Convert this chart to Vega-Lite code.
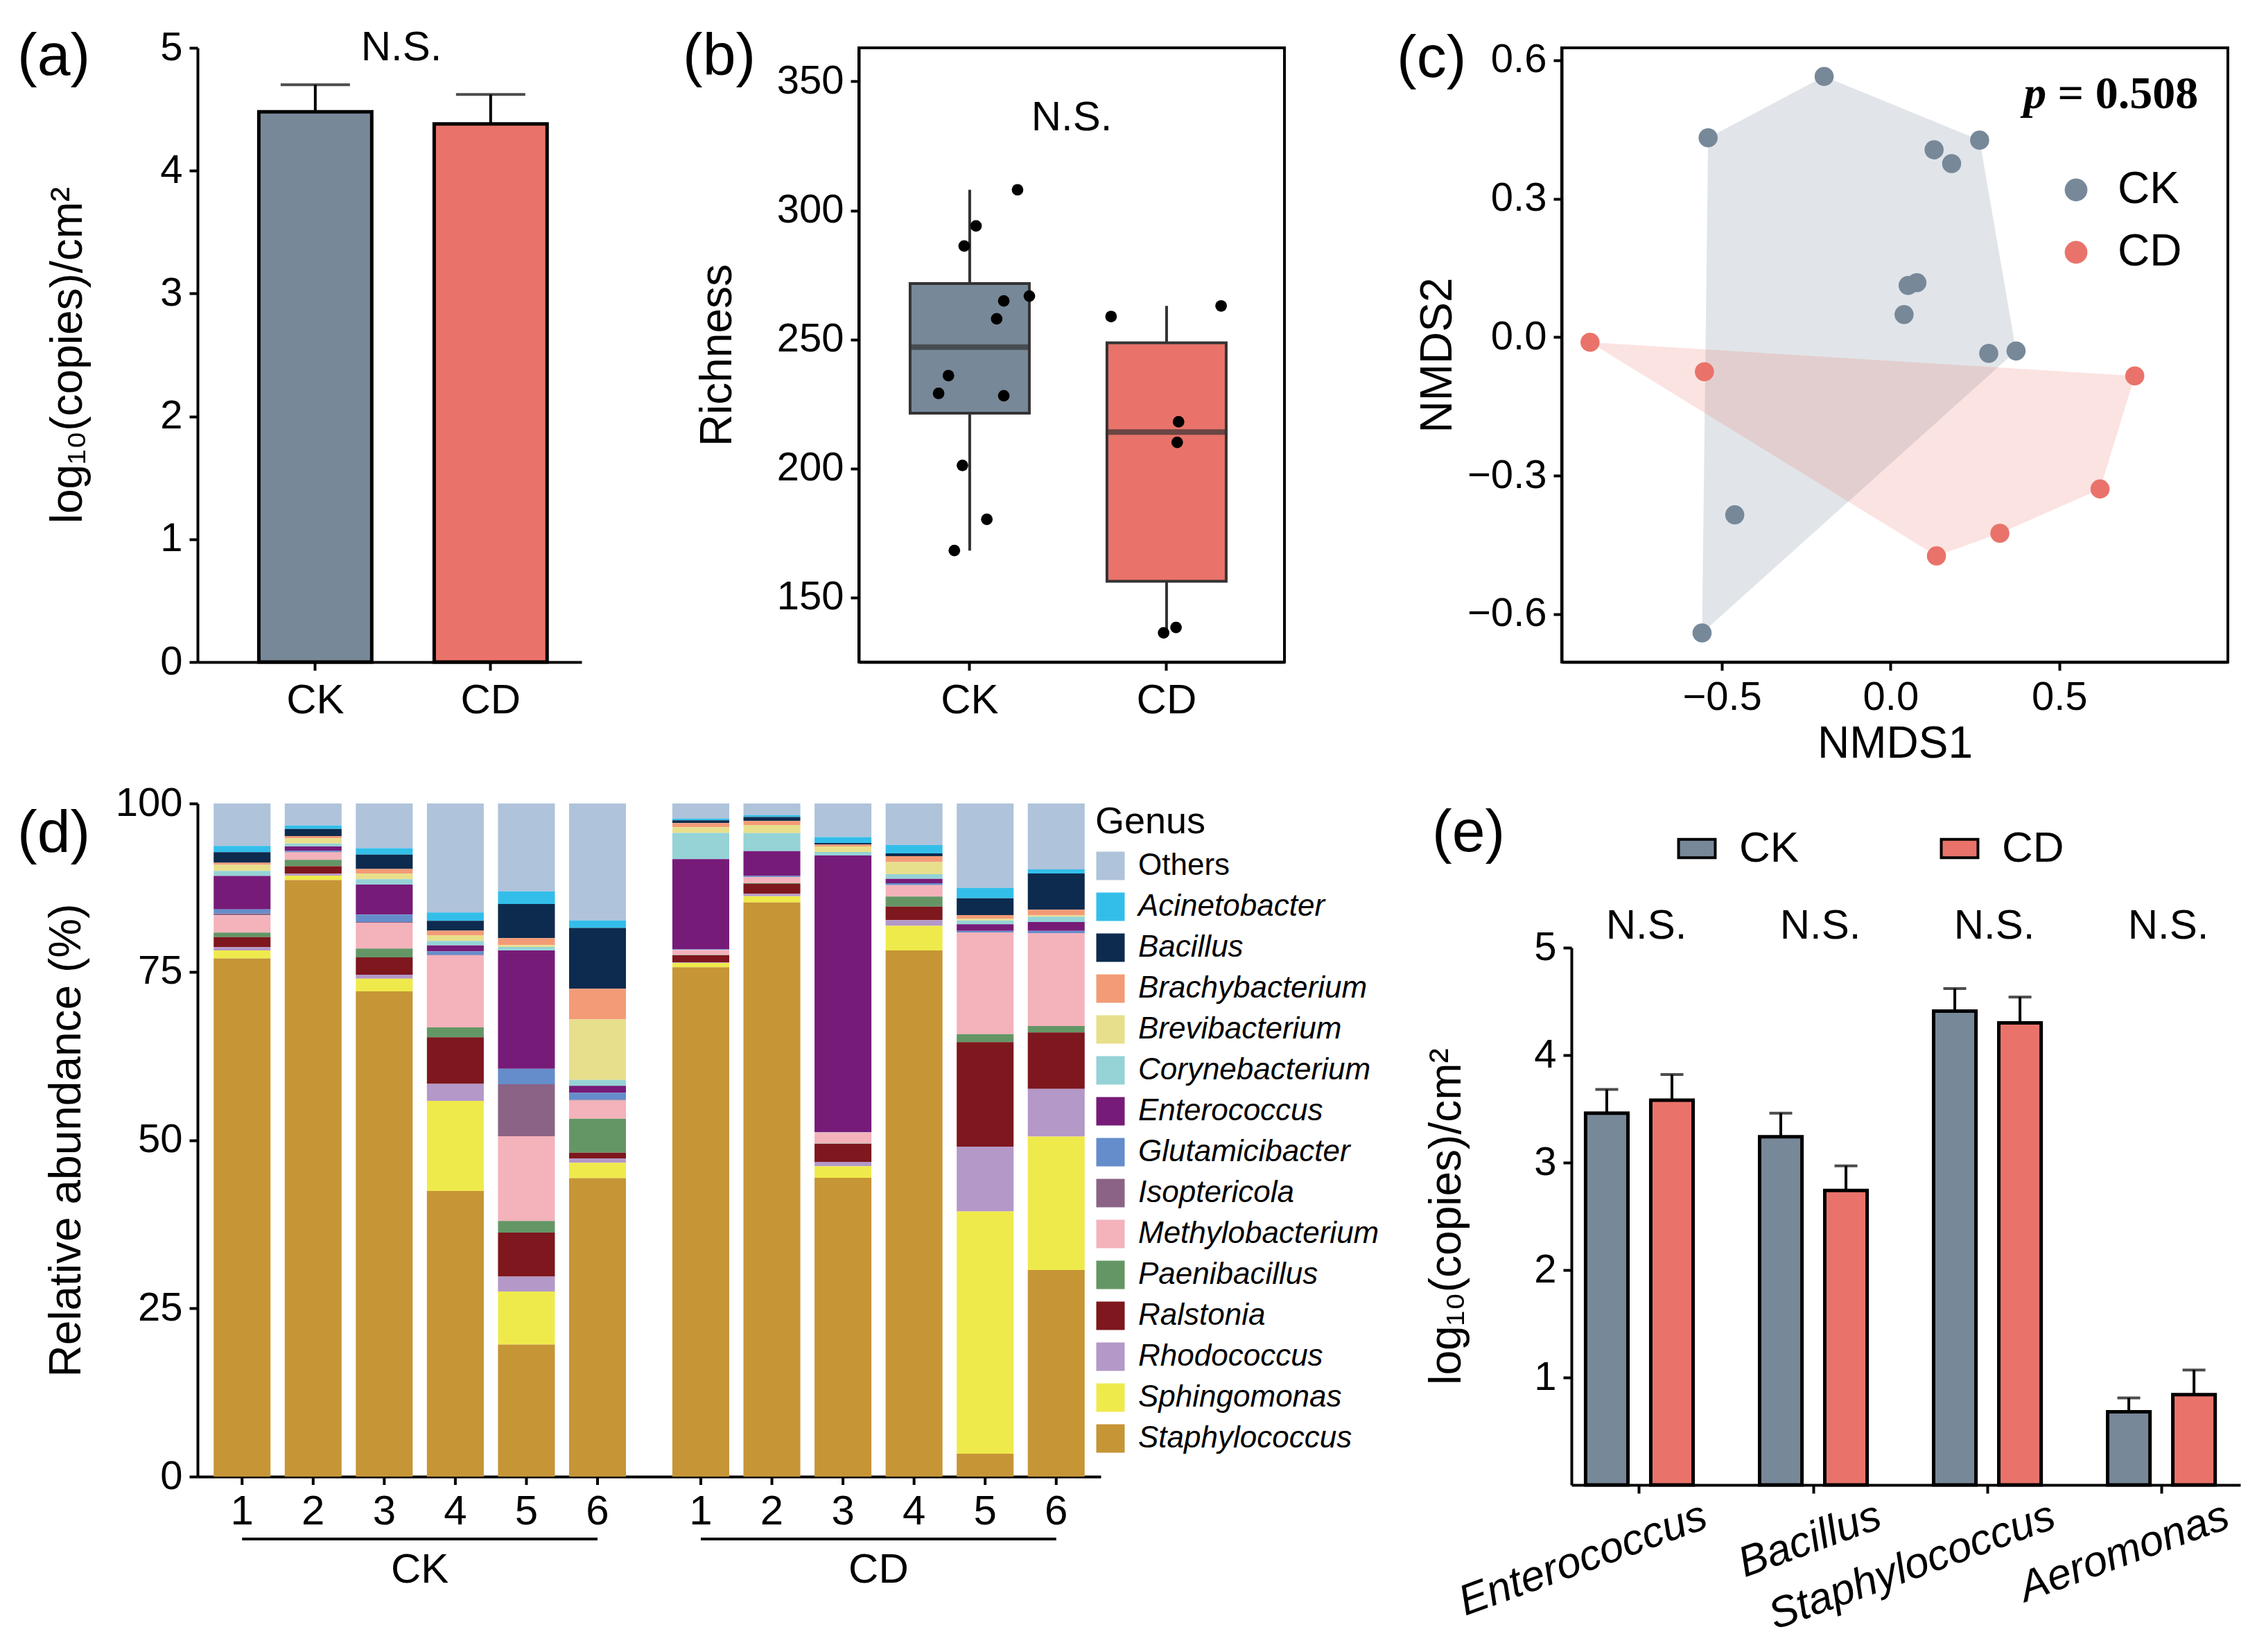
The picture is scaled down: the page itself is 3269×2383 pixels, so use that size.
{
  "$schema": "https://vega.github.io/schema/vega-lite/v6.json",
  "background": "white",
  "padding": {"left": 25, "top": 37, "right": 10, "bottom": 10},
  "bounds": "flush",
  "spacing": 1090,
  "resolve": {"scale": {"x": "independent", "y": "independent", "xOffset": "independent", "color": "independent", "fill": "independent"}, "legend": {"color": "independent", "fill": "independent"}},
  "config": {
    "font": "Liberation Sans",
    "view": {"stroke": null},
    "axis": {"domainColor": "black", "domainWidth": 4, "tickColor": "black", "tickWidth": 4, "tickSize": 12, "labelFontSize": 58, "labelColor": "black", "labelPadding": 10, "titleFontSize": 64, "titleFontWeight": "normal", "titleColor": "black", "grid": false},
    "title": {"fontSize": 86, "fontWeight": "normal", "color": "black", "anchor": "start", "frame": "group", "baseline": "alphabetic", "offset": 0},
    "legend": {"labelColor": "black", "titleColor": "black"}
  },
  "datasets": {
    "rich": [
      {"group": "CK", "richness": 308.0, "jitter": 0.243},
      {"group": "CK", "richness": 294.0, "jitter": 0.032},
      {"group": "CK", "richness": 286.2, "jitter": -0.028},
      {"group": "CK", "richness": 266.8, "jitter": 0.303},
      {"group": "CK", "richness": 264.9, "jitter": 0.173},
      {"group": "CK", "richness": 258.0, "jitter": 0.137},
      {"group": "CK", "richness": 236.0, "jitter": -0.108},
      {"group": "CK", "richness": 229.1, "jitter": -0.158},
      {"group": "CK", "richness": 228.2, "jitter": 0.173},
      {"group": "CK", "richness": 201.2, "jitter": -0.037},
      {"group": "CK", "richness": 180.3, "jitter": 0.087},
      {"group": "CK", "richness": 168.2, "jitter": -0.078},
      {"group": "CD", "richness": 258.9, "jitter": -0.282},
      {"group": "CD", "richness": 263.0, "jitter": 0.277},
      {"group": "CD", "richness": 218.1, "jitter": 0.061},
      {"group": "CD", "richness": 210.1, "jitter": 0.054},
      {"group": "CD", "richness": 136.3, "jitter": -0.015},
      {"group": "CD", "richness": 138.4, "jitter": 0.048}
    ],
    "nmds": [
      {"group": "CK", "NMDS1": -0.197, "NMDS2": 0.565},
      {"group": "CK", "NMDS1": -0.541, "NMDS2": 0.432},
      {"group": "CK", "NMDS1": 0.264, "NMDS2": 0.427},
      {"group": "CK", "NMDS1": 0.129, "NMDS2": 0.406},
      {"group": "CK", "NMDS1": 0.181, "NMDS2": 0.376},
      {"group": "CK", "NMDS1": 0.052, "NMDS2": 0.112},
      {"group": "CK", "NMDS1": 0.078, "NMDS2": 0.118},
      {"group": "CK", "NMDS1": 0.040, "NMDS2": 0.049},
      {"group": "CK", "NMDS1": 0.291, "NMDS2": -0.035},
      {"group": "CK", "NMDS1": 0.372, "NMDS2": -0.030},
      {"group": "CK", "NMDS1": -0.462, "NMDS2": -0.385},
      {"group": "CK", "NMDS1": -0.559, "NMDS2": -0.641},
      {"group": "CD", "NMDS1": -0.891, "NMDS2": -0.011},
      {"group": "CD", "NMDS1": -0.552, "NMDS2": -0.075},
      {"group": "CD", "NMDS1": 0.724, "NMDS2": -0.084},
      {"group": "CD", "NMDS1": 0.621, "NMDS2": -0.329},
      {"group": "CD", "NMDS1": 0.324, "NMDS2": -0.425},
      {"group": "CD", "NMDS1": 0.136, "NMDS2": -0.474}
    ],
    "hull": [
      {"group": "CK", "v": 0, "NMDS1": -0.541, "NMDS2": 0.432},
      {"group": "CK", "v": 1, "NMDS1": -0.197, "NMDS2": 0.565},
      {"group": "CK", "v": 2, "NMDS1": 0.264, "NMDS2": 0.427},
      {"group": "CK", "v": 3, "NMDS1": 0.372, "NMDS2": -0.030},
      {"group": "CK", "v": 4, "NMDS1": -0.559, "NMDS2": -0.641},
      {"group": "CD", "v": 0, "NMDS1": -0.891, "NMDS2": -0.011},
      {"group": "CD", "v": 1, "NMDS1": 0.724, "NMDS2": -0.084},
      {"group": "CD", "v": 2, "NMDS1": 0.621, "NMDS2": -0.329},
      {"group": "CD", "v": 3, "NMDS1": 0.324, "NMDS2": -0.425},
      {"group": "CD", "v": 4, "NMDS1": 0.136, "NMDS2": -0.474}
    ],
    "abund": [
      {"group": "CK", "sample": "1", "Others": 6.3, "Acinetobacter": 0.93, "Bacillus": 1.58, "Brachybacterium": 0.31, "Brevibacterium": 0.89, "Corynebacterium": 0.76, "Enterococcus": 4.97, "Glutamicibacter": 0.62, "Isoptericola": 0.24, "Methylobacterium": 2.58, "Paenibacillus": 0.68, "Ralstonia": 1.48, "Rhodococcus": 0.51, "Sphingomonas": 1.17, "Staphylococcus": 77.0},
      {"group": "CK", "sample": "2", "Others": 3.26, "Acinetobacter": 0.52, "Bacillus": 1.06, "Brachybacterium": 0.34, "Brevibacterium": 0.76, "Corynebacterium": 0.45, "Enterococcus": 0.65, "Glutamicibacter": 0.17, "Isoptericola": 0.05, "Methylobacterium": 1.1, "Paenibacillus": 0.96, "Ralstonia": 1.1, "Rhodococcus": 0.28, "Sphingomonas": 0.68, "Staphylococcus": 88.64},
      {"group": "CK", "sample": "3", "Others": 6.63, "Acinetobacter": 0.96, "Bacillus": 2.13, "Brachybacterium": 0.68, "Brevibacterium": 0.86, "Corynebacterium": 0.79, "Enterococcus": 4.46, "Glutamicibacter": 1.1, "Isoptericola": 0.1, "Methylobacterium": 3.85, "Paenibacillus": 1.3, "Ralstonia": 2.58, "Rhodococcus": 0.58, "Sphingomonas": 1.89, "Staphylococcus": 72.09},
      {"group": "CK", "sample": "4", "Others": 16.21, "Acinetobacter": 1.23, "Bacillus": 1.48, "Brachybacterium": 0.65, "Brevibacterium": 0.86, "Corynebacterium": 0.68, "Enterococcus": 0.86, "Glutamicibacter": 0.55, "Isoptericola": 0.05, "Methylobacterium": 10.71, "Paenibacillus": 1.48, "Ralstonia": 6.93, "Rhodococcus": 2.51, "Sphingomonas": 13.4, "Staphylococcus": 42.47},
      {"group": "CK", "sample": "5", "Others": 13.05, "Acinetobacter": 1.89, "Bacillus": 5.07, "Brachybacterium": 1.03, "Brevibacterium": 0.28, "Corynebacterium": 0.51, "Enterococcus": 17.58, "Glutamicibacter": 2.3, "Isoptericola": 7.72, "Methylobacterium": 12.6, "Paenibacillus": 1.73, "Ralstonia": 6.54, "Rhodococcus": 2.21, "Sphingomonas": 7.88, "Staphylococcus": 19.62},
      {"group": "CK", "sample": "6", "Others": 17.37, "Acinetobacter": 1.1, "Bacillus": 9.03, "Brachybacterium": 4.53, "Brevibacterium": 8.99, "Corynebacterium": 0.86, "Enterococcus": 1.06, "Glutamicibacter": 1.03, "Isoptericola": 0.1, "Methylobacterium": 2.7, "Paenibacillus": 5.04, "Ralstonia": 0.87, "Rhodococcus": 0.63, "Sphingomonas": 2.28, "Staphylococcus": 44.29},
      {"group": "CD", "sample": "1", "Others": 2.23, "Acinetobacter": 0.28, "Bacillus": 0.41, "Brachybacterium": 0.62, "Brevibacterium": 0.85, "Corynebacterium": 3.88, "Enterococcus": 13.39, "Glutamicibacter": 0.1, "Isoptericola": 0.0, "Methylobacterium": 0.76, "Paenibacillus": 0.05, "Ralstonia": 1.03, "Rhodococcus": 0.1, "Sphingomonas": 0.65, "Staphylococcus": 75.7},
      {"group": "CD", "sample": "2", "Others": 1.72, "Acinetobacter": 0.28, "Bacillus": 0.61, "Brachybacterium": 0.58, "Brevibacterium": 1.2, "Corynebacterium": 2.68, "Enterococcus": 3.68, "Glutamicibacter": 0.2, "Isoptericola": 0.0, "Methylobacterium": 0.89, "Paenibacillus": 0.1, "Ralstonia": 1.48, "Rhodococcus": 0.35, "Sphingomonas": 0.92, "Staphylococcus": 85.31},
      {"group": "CD", "sample": "3", "Others": 5.01, "Acinetobacter": 0.86, "Bacillus": 0.24, "Brachybacterium": 0.28, "Brevibacterium": 0.82, "Corynebacterium": 0.51, "Enterococcus": 41.14, "Glutamicibacter": 0.05, "Isoptericola": 0.0, "Methylobacterium": 1.65, "Paenibacillus": 0.05, "Ralstonia": 2.69, "Rhodococcus": 0.63, "Sphingomonas": 1.73, "Staphylococcus": 44.44},
      {"group": "CD", "sample": "4", "Others": 6.18, "Acinetobacter": 1.24, "Bacillus": 0.41, "Brachybacterium": 0.86, "Brevibacterium": 1.81, "Corynebacterium": 0.69, "Enterococcus": 0.65, "Glutamicibacter": 0.28, "Isoptericola": 0.0, "Methylobacterium": 1.71, "Paenibacillus": 1.48, "Ralstonia": 2.03, "Rhodococcus": 0.85, "Sphingomonas": 3.64, "Staphylococcus": 78.17},
      {"group": "CD", "sample": "5", "Others": 12.53, "Acinetobacter": 1.55, "Bacillus": 2.5, "Brachybacterium": 0.58, "Brevibacterium": 0.21, "Corynebacterium": 0.58, "Enterococcus": 0.97, "Glutamicibacter": 0.24, "Isoptericola": 0.0, "Methylobacterium": 15.1, "Paenibacillus": 1.2, "Ralstonia": 15.53, "Rhodococcus": 9.63, "Sphingomonas": 35.99, "Staphylococcus": 3.39},
      {"group": "CD", "sample": "6", "Others": 9.78, "Acinetobacter": 0.62, "Bacillus": 5.39, "Brachybacterium": 0.85, "Brevibacterium": 0.18, "Corynebacterium": 0.79, "Enterococcus": 1.31, "Glutamicibacter": 0.34, "Isoptericola": 0.0, "Methylobacterium": 13.8, "Paenibacillus": 0.96, "Ralstonia": 8.38, "Rhodococcus": 7.09, "Sphingomonas": 19.81, "Staphylococcus": 30.7}
    ],
    "samples": [
      {"group": "CK", "sample": "1"}, {"group": "CK", "sample": "2"}, {"group": "CK", "sample": "3"},
      {"group": "CK", "sample": "4"}, {"group": "CK", "sample": "5"}, {"group": "CK", "sample": "6"},
      {"group": "CD", "sample": "1"}, {"group": "CD", "sample": "2"}, {"group": "CD", "sample": "3"},
      {"group": "CD", "sample": "4"}, {"group": "CD", "sample": "5"}, {"group": "CD", "sample": "6"}
    ],
    "qpcr": [
      {"gene": "Enterococcus", "group": "CK", "mean": 3.46, "upper": 3.68},
      {"gene": "Enterococcus", "group": "CD", "mean": 3.58, "upper": 3.82},
      {"gene": "Bacillus", "group": "CK", "mean": 3.24, "upper": 3.46},
      {"gene": "Bacillus", "group": "CD", "mean": 2.74, "upper": 2.97},
      {"gene": "Staphylococcus", "group": "CK", "mean": 4.41, "upper": 4.62},
      {"gene": "Staphylococcus", "group": "CD", "mean": 4.30, "upper": 4.54},
      {"gene": "Aeromonas", "group": "CK", "mean": 0.68, "upper": 0.81},
      {"gene": "Aeromonas", "group": "CD", "mean": 0.84, "upper": 1.07}
    ]
  },
  "vconcat": [
    {
      "hconcat": [
        {
          "width": 554, "height": 886,
          "title": {"text": "(a)", "dx": -260, "dy": 91},
          "data": {"values": [{"group": "CK", "mean": 4.48, "upper": 4.70}, {"group": "CD", "mean": 4.38, "upper": 4.62}]},
          "layer": [
            {"mark": {"type": "rule", "color": "black", "strokeWidth": 4},
             "encoding": {
               "x": {"field": "group", "type": "nominal", "sort": ["CK", "CD"], "scale": {"type": "band", "domain": ["CK", "CD"], "paddingInner": 0.356, "paddingOuter": 0.273, "align": 0.64}, "axis": {"title": null, "labelAngle": 0, "labelFontSize": 60, "labelPadding": 14}},
               "y": {"field": "mean", "type": "quantitative", "scale": {"domain": [0, 5], "nice": false}, "axis": {"values": [0, 1, 2, 3, 4, 5], "format": "d", "title": "log₁₀(copies)/cm²", "titlePadding": 100}},
               "y2": {"field": "upper"}}},
            {"mark": {"type": "tick", "color": "black", "thickness": 4, "size": 100},
             "encoding": {"x": {"field": "group", "type": "nominal", "sort": ["CK", "CD"]}, "y": {"field": "upper", "type": "quantitative"}}},
            {"mark": {"type": "bar", "stroke": "black", "strokeWidth": 5, "width": {"band": 1}},
             "encoding": {"x": {"field": "group", "type": "nominal", "sort": ["CK", "CD"]}, "y": {"field": "mean", "type": "quantitative"},
               "fill": {"field": "group", "type": "nominal", "scale": {"domain": ["CK", "CD"], "range": ["#778899", "#E9736A"]}, "legend": null}}},
            {"data": {"values": [{}]}, "mark": {"type": "text", "text": "N.S.", "fontSize": 60, "baseline": "middle", "dx": 17},
             "encoding": {"y": {"datum": 5}}}
          ]
        },
        {
          "width": 614, "height": 886,
          "view": {"stroke": "black", "strokeWidth": 4},
          "title": {"text": "(b)", "dx": -254, "dy": 61},
          "data": {"name": "rich"},
          "layer": [
            {"mark": {"type": "boxplot", "extent": 1.5, "size": 172, "ticks": false, "outliers": false,
                      "box": {"stroke": "#333333", "strokeWidth": 4},
                      "median": {"color": "#333333", "thickness": 8},
                      "rule": {"color": "#333333", "strokeWidth": 4}},
             "encoding": {
               "x": {"field": "group", "type": "nominal", "sort": ["CK", "CD"], "scale": {"type": "band", "domain": ["CK", "CD"], "paddingInner": 0, "paddingOuter": 0.081, "align": 0.39}, "axis": {"title": null, "labelAngle": 0, "labelFontSize": 60, "labelPadding": 14}},
               "y": {"field": "richness", "type": "quantitative", "scale": {"domain": [125, 363], "nice": false, "zero": false}, "axis": {"values": [150, 200, 250, 300, 350], "title": "Richness", "titlePadding": 53}},
               "color": {"field": "group", "type": "nominal", "scale": {"domain": ["CK", "CD"], "range": ["#778899", "#E9736A"]}, "legend": null}}},
            {"mark": {"type": "circle", "color": "black", "size": 280, "opacity": 1},
             "encoding": {
               "x": {"field": "group", "type": "nominal", "sort": ["CK", "CD"]},
               "xOffset": {"field": "jitter", "type": "quantitative", "scale": {"domain": [-0.5, 0.5], "range": [0, 284]}},
               "y": {"field": "richness", "type": "quantitative"}}},
            {"data": {"values": [{}]}, "mark": {"type": "text", "text": "N.S.", "fontSize": 60, "baseline": "middle"},
             "encoding": {"y": {"datum": 336}}}
          ]
        },
        {
          "width": 961, "height": 886,
          "view": {"stroke": "black", "strokeWidth": 4},
          "title": {"text": "(c)", "dx": -238, "dy": 75},
          "layer": [
            {"data": {"name": "hull"}, "transform": [{"filter": "datum.group === 'CK'"}],
             "mark": {"type": "line", "interpolate": "linear-closed", "fill": "#778899", "fillOpacity": 0.22, "strokeOpacity": 0},
             "encoding": {
               "x": {"field": "NMDS1", "type": "quantitative", "scale": {"domain": [-0.975, 1.0], "nice": false, "zero": false}, "axis": {"values": [-0.5, 0, 0.5], "format": ".1f", "title": "NMDS1", "titlePadding": 6}},
               "y": {"field": "NMDS2", "type": "quantitative", "scale": {"domain": [-0.704, 0.627], "nice": false, "zero": false}, "axis": {"values": [-0.6, -0.3, 0, 0.3, 0.6], "format": ".1f", "title": "NMDS2", "titlePadding": 10}},
               "order": {"field": "v", "type": "quantitative"}}},
            {"data": {"name": "hull"}, "transform": [{"filter": "datum.group === 'CD'"}],
             "mark": {"type": "line", "interpolate": "linear-closed", "fill": "#E9736A", "fillOpacity": 0.2, "strokeOpacity": 0},
             "encoding": {
               "x": {"field": "NMDS1", "type": "quantitative"},
               "y": {"field": "NMDS2", "type": "quantitative"},
               "order": {"field": "v", "type": "quantitative"}}},
            {"data": {"name": "nmds"},
             "mark": {"type": "circle", "size": 760, "opacity": 1},
             "encoding": {
               "x": {"field": "NMDS1", "type": "quantitative"},
               "y": {"field": "NMDS2", "type": "quantitative"},
               "color": {"field": "group", "type": "nominal", "scale": {"domain": ["CK", "CD"], "range": ["#778899", "#E9736A"]},
                         "legend": {"title": null, "orient": "none", "legendX": 710, "legendY": 173, "symbolType": "circle", "symbolSize": 1075, "symbolStrokeWidth": 0, "labelFontSize": 64, "labelOffset": 28, "rowPadding": 26}}}},
            {"data": {"values": [{}]},
             "mark": {"type": "text", "text": "= 0.508", "font": "Liberation Serif", "fontWeight": "bold", "fontSize": 66, "align": "right", "baseline": "alphabetic"},
             "encoding": {"x": {"datum": 0.912}, "y": {"datum": 0.496}}},
            {"data": {"values": [{}]},
             "mark": {"type": "text", "text": "p", "font": "Liberation Serif", "fontWeight": "bold", "fontStyle": "italic", "fontSize": 66, "align": "right", "baseline": "alphabetic"},
             "encoding": {"x": {"datum": 0.462}, "y": {"datum": 0.496}}}
          ]
        }
      ],
      "spacing": 400,
      "bounds": "flush",
      "resolve": {"scale": {"x": "independent", "y": "independent", "xOffset": "independent", "color": "independent", "fill": "independent"}, "legend": {"color": "independent", "fill": "independent"}}
    },
    {
      "hconcat": [
        {
          "width": 1303, "height": 971,
          "title": {"text": "(d)", "dx": -260, "dy": 121},
          "layer": [
            {"data": {"name": "samples"},
             "mark": {"type": "rule", "color": "black", "strokeWidth": 4, "y2Offset": 12},
             "encoding": {
               "x": {"field": "group", "type": "nominal", "scale": {"type": "band", "domain": ["CK", "CD"], "paddingInner": 0.095, "paddingOuter": 0.032}, "axis": {"title": null, "ticks": false, "tickSize": 0, "labelAngle": 0, "labelFontSize": 60, "labelPadding": 105}},
               "xOffset": {"field": "sample", "type": "nominal", "scale": {"type": "band", "domain": ["1", "2", "3", "4", "5", "6"], "paddingInner": 0.2, "paddingOuter": 0.02}},
               "y": {"datum": 0},
               "y2": {"datum": 0}}},
            {"data": {"name": "abund"},
             "transform": [
               {"fold": ["Others", "Acinetobacter", "Bacillus", "Brachybacterium", "Brevibacterium", "Corynebacterium", "Enterococcus", "Glutamicibacter", "Isoptericola", "Methylobacterium", "Paenibacillus", "Ralstonia", "Rhodococcus", "Sphingomonas", "Staphylococcus"], "as": ["genus", "value"]},
               {"calculate": "indexof(['Staphylococcus','Sphingomonas','Rhodococcus','Ralstonia','Paenibacillus','Methylobacterium','Isoptericola','Glutamicibacter','Enterococcus','Corynebacterium','Brevibacterium','Brachybacterium','Bacillus','Acinetobacter','Others'], datum.genus)", "as": "rank"}
             ],
             "mark": {"type": "bar"},
             "encoding": {
               "x": {"field": "group", "type": "nominal"},
               "xOffset": {"field": "sample", "type": "nominal"},
               "y": {"field": "value", "type": "quantitative", "stack": "normalize", "scale": {"domain": [0, 1], "nice": false},
                     "axis": {"values": [0, 0.25, 0.5, 0.75, 1], "labelExpr": "format(datum.value * 100, 'd')", "title": "Relative abundance (%)", "titlePadding": 38}},
               "color": {"field": "genus", "type": "nominal",
                         "scale": {"domain": ["Others", "Acinetobacter", "Bacillus", "Brachybacterium", "Brevibacterium", "Corynebacterium", "Enterococcus", "Glutamicibacter", "Isoptericola", "Methylobacterium", "Paenibacillus", "Ralstonia", "Rhodococcus", "Sphingomonas", "Staphylococcus"],
                                   "range": ["#AFC3DA", "#33BEEA", "#0D2B4E", "#F39B77", "#E8DF8C", "#95D3D7", "#771B78", "#658DCB", "#8B6386", "#F4B2BB", "#649665", "#7E171E", "#B398C8", "#EFEA4B", "#C69536"]},
                         "legend": {"title": "Genus", "orient": "right", "offset": -8, "titleFontSize": 54, "titleFontWeight": "normal", "labelFontSize": 44, "symbolType": "square", "symbolSize": 1681, "symbolStrokeWidth": 0, "rowPadding": 15, "labelOffset": 18, "titlePadding": 14, "labelLimit": 600,
                                    "encode": {"labels": {"update": {"fontStyle": {"signal": "datum.label === 'Others' ? 'normal' : 'italic'"}}}}}},
               "order": {"field": "rank", "type": "quantitative", "sort": "ascending"}}},
            {"data": {"name": "samples"},
             "mark": {"type": "text", "fontSize": 60, "baseline": "top", "dy": 22},
             "encoding": {
               "x": {"field": "group", "type": "nominal"},
               "xOffset": {"field": "sample", "type": "nominal"},
               "y": {"datum": 0},
               "text": {"field": "sample"}}},
            {"data": {"name": "samples"}, "transform": [{"filter": "datum.sample === '1' || datum.sample === '6'"}],
             "mark": {"type": "line", "color": "black", "strokeWidth": 4, "yOffset": 90},
             "encoding": {
               "x": {"field": "group", "type": "nominal"},
               "xOffset": {"field": "sample", "type": "nominal"},
               "y": {"datum": 0},
               "detail": {"field": "group"}}}
          ]
        },
        {
          "width": 965, "height": 983,
          "title": {"text": "(e)", "dx": -201, "dy": 91},
          "data": {"name": "qpcr"},
          "layer": [
            {"mark": {"type": "rule", "color": "black", "strokeWidth": 4},
             "encoding": {
               "x": {"field": "gene", "type": "nominal", "scale": {"type": "band", "domain": ["Enterococcus", "Bacillus", "Staphylococcus", "Aeromonas"], "paddingInner": 0.382, "paddingOuter": 0.113, "align": 0.36},
                     "axis": {"title": null, "labelAngle": -20, "labelAlign": "right", "labelBaseline": "top", "labelFontStyle": "italic", "labelFontSize": 62, "labelOffset": 85, "labelPadding": 2, "labelLimit": 0}},
               "xOffset": {"field": "group", "type": "nominal", "scale": {"type": "band", "domain": ["CK", "CD"], "paddingInner": 0.35, "paddingOuter": 0}},
               "y": {"field": "mean", "type": "quantitative", "scale": {"domain": [0, 5], "range": [983, 208], "nice": false},
                     "axis": {"values": [1, 2, 3, 4, 5], "format": "d", "title": "log₁₀(copies)/cm²", "titlePadding": 93}},
               "y2": {"field": "upper"}}},
            {"mark": {"type": "tick", "color": "black", "thickness": 4, "size": 33},
             "encoding": {
               "x": {"field": "gene", "type": "nominal"},
               "xOffset": {"field": "group", "type": "nominal"},
               "y": {"field": "upper", "type": "quantitative"}}},
            {"mark": {"type": "bar", "stroke": "black", "strokeWidth": 5},
             "encoding": {
               "x": {"field": "gene", "type": "nominal"},
               "xOffset": {"field": "group", "type": "nominal"},
               "y": {"field": "mean", "type": "quantitative"},
               "fill": {"field": "group", "type": "nominal", "scale": {"domain": ["CK", "CD"], "range": ["#778899", "#E9736A"]},
                        "legend": {"title": null, "orient": "none", "legendX": 150, "legendY": 34, "direction": "horizontal", "symbolType": "M-1,-0.5H1V0.5H-1Z", "symbolSize": 2800, "symbolStrokeColor": "black", "symbolStrokeWidth": 4, "labelFontSize": 62, "labelOffset": 30, "columnPadding": 196}}}},
            {"data": {"values": [{"gene": "Enterococcus"}, {"gene": "Bacillus"}, {"gene": "Staphylococcus"}, {"gene": "Aeromonas"}]},
             "mark": {"type": "text", "text": "N.S.", "fontSize": 60, "baseline": "middle", "dx": 10},
             "encoding": {"x": {"field": "gene", "type": "nominal"}, "y": {"datum": 5.2}}}
          ]
        }
      ],
      "spacing": 679,
      "bounds": "flush",
      "resolve": {"scale": {"x": "independent", "y": "independent", "xOffset": "independent", "color": "independent", "fill": "independent"}, "legend": {"color": "independent", "fill": "independent"}}
    }
  ]
}
